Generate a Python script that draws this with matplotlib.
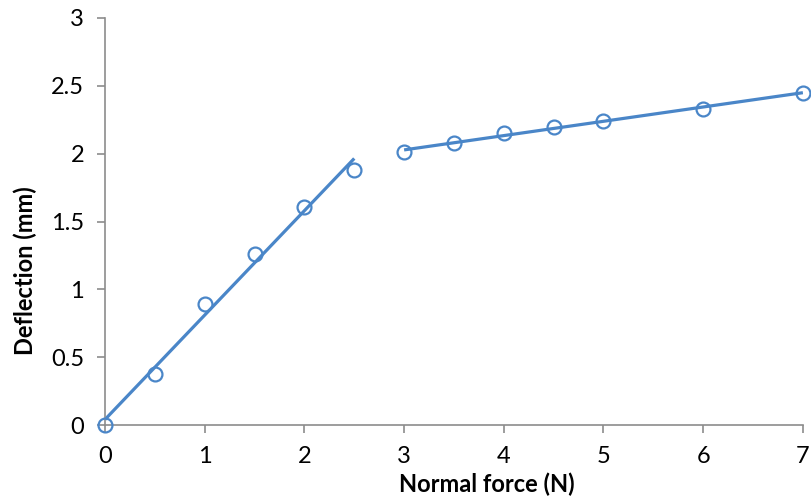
import numpy as np
import matplotlib
matplotlib.use("Agg")
import matplotlib.pyplot as plt

plt.rcParams['font.family'] = ['Lato', 'DejaVu Sans']

force_low = [0, 0.5, 1, 1.5, 2, 2.5]
defl_low = [0, 0.38, 0.89, 1.26, 1.61, 1.88]
force_high = [3, 3.5, 4, 4.5, 5, 6, 7]
defl_high = [2.01, 2.08, 2.15, 2.20, 2.24, 2.33, 2.45]

blue = '#4A86C8'
gray = '#8C8C8C'

fig = plt.figure(figsize=(8.11, 4.99), dpi=100)
ax = fig.add_axes([0.1295, 0.148, 0.8605, 0.816])

for xs, ys in [(force_low, defl_low), (force_high, defl_high)]:
    xs = np.array(xs); ys = np.array(ys)
    m, b = np.polyfit(xs, ys, 1)
    xf = np.array([xs.min(), xs.max()])
    ax.plot(xf, m * xf + b, color=blue, lw=2.3, zorder=2, solid_capstyle='butt')
    ax.plot(xs, ys, 'o', ms=10, mfc='none', mec=blue, mew=1.6, zorder=3, clip_on=False)

ax.set_xlim(0, 7)
ax.set_ylim(0, 3)
ax.set_xticks(range(0, 8))
ax.set_yticks([0, 0.5, 1, 1.5, 2, 2.5, 3])
ax.set_yticklabels(['0', '0.5', '1', '1.5', '2', '2.5', '3'])
for s in ['top', 'right']:
    ax.spines[s].set_visible(False)
for s in ['left', 'bottom']:
    ax.spines[s].set_color(gray)
    ax.spines[s].set_linewidth(1.2)
ax.tick_params(axis='both', direction='out', length=6, width=1.2, color=gray,
               labelsize=17, labelcolor='black')
ax.tick_params(axis='x', pad=9)
ax.tick_params(axis='y', pad=9)

ax.set_xlabel('Normal force (N)', fontsize=17, fontweight='bold')
ax.set_ylabel('Deflection (mm)', fontsize=17, fontweight='bold')
ax.xaxis.set_label_coords(0.547, -0.116)
ax.yaxis.set_label_coords(-0.097, 0.38)

fig.savefig('out.png', dpi=100)
